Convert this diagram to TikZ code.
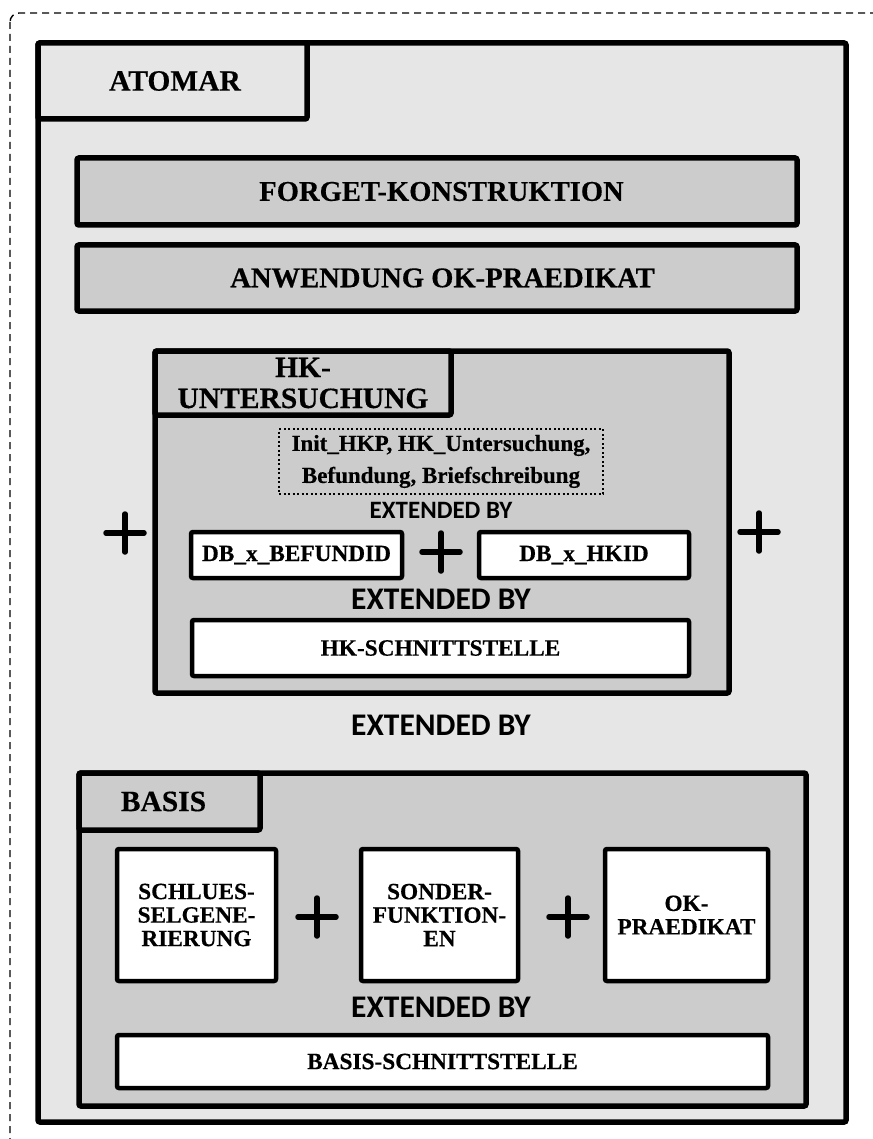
\documentclass[tikz,border=0pt]{standalone}
\usepackage{fontspec}
\setmainfont{Liberation Serif}[BoldFeatures={FakeBold=0.4}]
\newfontfamily\extfont{Carlito}
\definecolor{lightg}{HTML}{E6E6E6}
\definecolor{midg}{HTML}{CCCCCC}
\begin{document}
\begin{tikzpicture}[x=1pt,y=-1pt,
  frame/.style={draw, line width=5.5pt, rounded corners=2pt, inner sep=0pt, outer sep=0pt, anchor=north west, align=center},
  outerbox/.style={frame, fill=lightg},
  graybox/.style={frame, fill=midg},
  whitebox/.style={frame, line width=4.5pt, fill=white},
  dotbox/.style={draw, dash pattern=on 2pt off 2.5pt, line width=1.6pt, inner sep=0pt, outer sep=0pt, anchor=north west, align=center},
  head/.style={font=\fontsize{29.5}{31}\selectfont\bfseries},
  headw/.style={font=\fontsize{28.6}{31}\selectfont\bfseries},
  lbl/.style={font=\fontsize{23.3}{23.5}\selectfont\bfseries},
  dlbl/.style={font=\fontsize{23}{32}\selectfont\bfseries},
  ext/.style={font=\extfont\fontsize{25}{27}\selectfont\bfseries, inner sep=0pt},
  extbig/.style={font=\extfont\fontsize{31.5}{33}\selectfont\bfseries, inner sep=0pt},
  plus/.style={minimum size=38pt, inner sep=0pt, outer sep=0pt},
  plusmark/.style={line width=5.5pt, line cap=round}
]
\useasboundingbox[fill=white] (0,0) rectangle (872,1139);
% outer dashed frame (runs off right and bottom)
\draw[dash pattern=on 7pt off 5pt, line width=1.4pt, rounded corners=9pt] (10,13) rectangle (905,1170);

% ATOMAR
\node[outerbox, minimum width=808pt, minimum height=1079pt] (atomar) at (38,43) {};
\node[outerbox, head, minimum width=269pt, minimum height=76pt] (atomartab) at (38,43) {\hspace*{5pt}ATOMAR};

\node[graybox, headw, minimum width=720pt, minimum height=67pt] (forget) at (77,158) {\hspace*{9pt}\raisebox{-2.5pt}{FORGET-KONSTRUKTION}};
\node[graybox, headw, minimum width=720pt, minimum height=66pt] (anwend) at (77,245) {\hspace*{11pt}\raisebox{-2.5pt}{ANWENDUNG OK-PRAEDIKAT}};

% HK-UNTERSUCHUNG
\node[graybox, minimum width=574pt, minimum height=342pt] (hk) at (155,351) {};
\node[graybox, head, minimum width=296pt, minimum height=64pt] (hktab) at (155,351) {HK-\\UNTERSUCHUNG};
\node[dotbox, dlbl, minimum width=324pt, minimum height=65pt] (init) at (279,429) {Init\_HKP, HK\_Untersuchung,\\Befundung, Briefschreibung};
\node[ext] (ext1) at (441,510) {EXTENDED BY};
\node[whitebox, lbl, minimum width=211pt, minimum height=46pt] (befund) at (191,532) {DB\_x\_BEFUNDID};
\node[whitebox, lbl, minimum width=210pt, minimum height=46pt] (hkid) at (479,532) {DB\_x\_HKID};
\node[plus] (pmid) at (441,552) {};
\draw[plusmark] (pmid.north) -- (pmid.south) (pmid.west) -- (pmid.east);
\node[extbig] (ext2) at (441,599) {EXTENDED BY};
\node[whitebox, lbl, minimum width=497pt, minimum height=56pt] (hkschnitt) at (192,620) {HK-SCHNITTSTELLE};

\node[plus] (pleft) at (125,533) {};
\draw[plusmark] (pleft.north) -- (pleft.south) (pleft.west) -- (pleft.east);
\node[plus] (pright) at (759,532) {};
\draw[plusmark] (pright.north) -- (pright.south) (pright.west) -- (pright.east);

\node[extbig] (ext3) at (441,725) {EXTENDED BY};

% BASIS
\node[graybox, minimum width=727pt, minimum height=333pt] (basis) at (79,773) {};
\node[graybox, head, minimum width=181pt, minimum height=57pt] (basistab) at (79,773) {BASIS\hspace*{12pt}};
\node[whitebox, lbl, minimum width=159pt, minimum height=132pt] (schlues) at (117,849) {SCHLUES-\\SELGENE-\\RIERUNG};
\node[whitebox, lbl, minimum width=157pt, minimum height=132pt] (sonder) at (361,849) {SONDER-\\FUNKTION-\\EN};
\node[whitebox, lbl, minimum width=163pt, minimum height=132pt] (okp) at (605,849) {OK-\\PRAEDIKAT};
\node[plus] (pb1) at (317,917) {};
\draw[plusmark] (pb1.north) -- (pb1.south) (pb1.west) -- (pb1.east);
\node[plus] (pb2) at (568,917) {};
\draw[plusmark] (pb2.north) -- (pb2.south) (pb2.west) -- (pb2.east);
\node[extbig] (ext4) at (441,1007) {EXTENDED BY};
\node[whitebox, lbl, minimum width=651pt, minimum height=53pt] (basisschnitt) at (117,1035) {BASIS-SCHNITTSTELLE};
\end{tikzpicture}
\end{document}
